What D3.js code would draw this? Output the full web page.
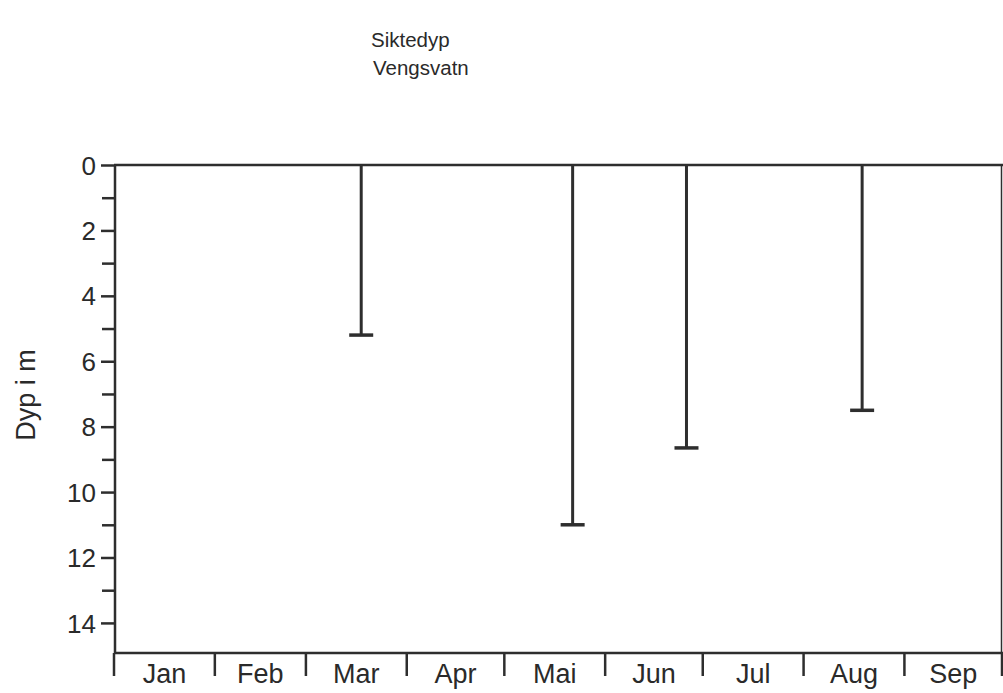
<!DOCTYPE html>
<html><head><meta charset="utf-8">
<script src="https://cdn.jsdelivr.net/npm/d3@7"></script>
<style>
html,body{margin:0;padding:0;background:#fff;}
svg{display:block;}
text{font-family:"Liberation Sans",Arial,sans-serif;fill:#2a2a2a;}
</style></head>
<body>
<svg id="chart" width="1003" height="693"></svg>
<script>
const titleLines = ["Siktedyp", "Vengsvatn"];
const yAxisLabel = "Dyp i m";
const months = ["Jan","Feb","Mar","Apr","Mai","Jun","Jul","Aug","Sep"];
const sampleDates = ["1975-03-18","1975-05-22","1975-06-26","1975-08-19"];
const depths = [5.2, 11.0, 8.65, 7.5];
const yMajorTicks = [0,2,4,6,8,10,12,14];
const yMinorTicks = [1,3,5,7,9,11,13];

const svg = d3.select("#chart");
const ink = "#2e2e2e";
const parse = d3.utcParse("%Y-%m-%d");

const x = d3.scaleUtc()
  .domain([new Date(Date.UTC(1975,0,1)), new Date(Date.UTC(1975,9,1))])
  .range([114, 1002]);
const y = d3.scaleLinear().domain([0, 14.92]).range([165, 653]);

// title
svg.append("text").attr("x", 371).attr("y", 47).attr("font-size", 20.5).text(titleLines[0]);
svg.append("text").attr("x", 373).attr("y", 75).attr("font-size", 20.5).text(titleLines[1]);

// y axis label
svg.append("text")
  .attr("transform", "translate(35,395) rotate(-90)")
  .attr("text-anchor", "middle").attr("font-size", 27).text(yAxisLabel);

const g = svg.append("g");
// top line
g.append("line").attr("x1", x.range()[0]).attr("x2", 1003)
  .attr("y1", y(0)).attr("y2", y(0)).attr("stroke", ink).attr("stroke-width", 2.5);
// bottom line
g.append("line").attr("x1", x.range()[0]).attr("x2", 1003)
  .attr("y1", y.range()[1]).attr("y2", y.range()[1]).attr("stroke", ink).attr("stroke-width", 2.5);
// left axis line
g.append("line").attr("x1", 115).attr("x2", 115)
  .attr("y1", y(0)).attr("y2", y.range()[1]).attr("stroke", ink).attr("stroke-width", 2.5);
// right border
g.append("line").attr("x1", 1001.5).attr("x2", 1001.5)
  .attr("y1", y(0)).attr("y2", y.range()[1]).attr("stroke", ink).attr("stroke-width", 1.5);

// y ticks
const yAxis = d3.axisLeft(y).tickValues(yMajorTicks).tickSize(14).tickPadding(5).tickFormat(d3.format("d"));
const ya = g.append("g").attr("transform", "translate(115,0)").call(yAxis);
ya.select(".domain").remove();
ya.selectAll(".tick line").attr("stroke", ink).attr("stroke-width", 2.5);
ya.selectAll(".tick text").attr("font-size", 26).attr("font-family", "Liberation Sans, Arial, sans-serif").attr("fill", ink).attr("dy", "0.35em");
const yMinor = d3.axisLeft(y).tickValues(yMinorTicks).tickSize(13).tickFormat("");
const ym = g.append("g").attr("transform", "translate(115,0)").call(yMinor);
ym.select(".domain").remove();
ym.selectAll(".tick line").attr("stroke", ink).attr("stroke-width", 2.5);

// month boundary ticks (downward)
const monthStarts = d3.utcMonths(x.domain()[0], d3.utcDay.offset(x.domain()[1], 1));
g.selectAll(".mtick").data(monthStarts).join("line")
  .attr("x1", d => x(d)).attr("x2", d => x(d))
  .attr("y1", y.range()[1]).attr("y2", y.range()[1] + 23)
  .attr("stroke", ink).attr("stroke-width", 2.5);
// month labels centered between boundaries
g.selectAll(".mlabel").data(months).join("text")
  .attr("x", (d, i) => (x(monthStarts[i]) + x(monthStarts[i+1])) / 2)
  .attr("y", 683).attr("text-anchor", "middle").attr("font-size", 27).text(d => d);

// depth bars
const data = sampleDates.map((d, i) => ({date: parse(d), depth: depths[i]}));
g.selectAll(".bar").data(data).join("line")
  .attr("x1", d => x(d.date)).attr("x2", d => x(d.date))
  .attr("y1", y(0)).attr("y2", d => y(d.depth))
  .attr("stroke", ink).attr("stroke-width", 3);
g.selectAll(".cap").data(data).join("line")
  .attr("x1", d => x(d.date) - 12).attr("x2", d => x(d.date) + 12)
  .attr("y1", d => y(d.depth)).attr("y2", d => y(d.depth))
  .attr("stroke", ink).attr("stroke-width", 3.5);
</script>
</body></html>
